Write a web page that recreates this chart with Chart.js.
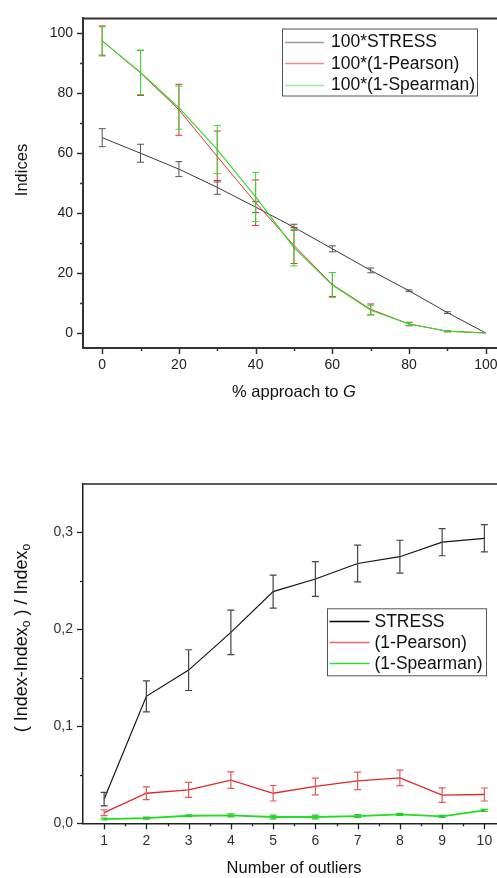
<!DOCTYPE html>
<html>
<head>
<meta charset="utf-8">
<script src="https://cdn.jsdelivr.net/npm/chart.js@4.4.1/dist/chart.umd.min.js"></script>
<style>
    html, body { margin: 0; padding: 0; background: #fff; overflow: hidden; width: 497px; height: 878px; }
    .box { position: absolute; left: 0; }
    #topBox { top: 0; }
    #bottomBox { top: 440px; }
</style>
</head>
<body>
<div class="box" id="topBox"><canvas id="topChart" width="520" height="420"></canvas></div>
<div class="box" id="bottomBox"><canvas id="bottomChart" width="520" height="438"></canvas></div>
<script>
// ---- top chart: % approach to G ----
const approach = [0, 10, 20, 30, 40, 50, 60, 70, 80, 90, 100];
const stressTop = [65.2, 60, 54.7, 48.6, 42, 35.3, 28.1, 20.9, 14.1, 6.8, 0];
const stressTopErr = [3, 3, 2.5, 2.3, 1.8, 1, 1, 0.8, 0.3, 0.3, 0];
const pearsonTop = [97.5, 86.8, 74.5, 58.9, 43.5, 29.2, 16.2, 7.9, 3, 0.6, 0];
const pearsonTopErr = [5, 7.5, 8.5, 8.5, 7.6, 6, 4, 1.8, 0.6, 0.2, 0];
const spearmanTop = [97.5, 87, 75.2, 61.2, 45.4, 28.5, 16, 7.6, 3, 0.6, 0];
const spearmanTopErr = [4.7, 7.4, 7.2, 8, 8.2, 6.1, 4.2, 1.6, 0.5, 0.2, 0];
const topXMajor = [0, 20, 40, 60, 80, 100];
const topXMinor = [10, 30, 50, 70, 90];
const topYMajor = [0, 20, 40, 60, 80, 100];
const topYMinor = [10, 30, 50, 70, 90];

// ---- bottom chart: number of outliers ----
const outliers = [1, 2, 3, 4, 5, 6, 7, 8, 9, 10];
const stressOut = [0.025, 0.131, 0.158, 0.197, 0.239, 0.252, 0.268, 0.275, 0.290, 0.294];
const stressOutErr = [0.007, 0.016, 0.021, 0.023, 0.017, 0.018, 0.019, 0.017, 0.014, 0.014];
const pearsonOut = [0.011, 0.031, 0.0345, 0.0445, 0.031, 0.038, 0.0437, 0.0468, 0.029, 0.0297];
const pearsonOutErr = [0.003, 0.0065, 0.0077, 0.0085, 0.008, 0.0087, 0.009, 0.008, 0.0075, 0.0067];
const spearmanOut = [0.0044, 0.0054, 0.0078, 0.0082, 0.0065, 0.0065, 0.0075, 0.0092, 0.0072, 0.0133];
const spearmanOutErr = [0.001, 0.001, 0.001, 0.0015, 0.002, 0.002, 0.0015, 0.001, 0.001, 0.001];
const botXMajor = [1, 2, 3, 4, 5, 6, 7, 8, 9, 10];
const botXMinor = [1.5, 2.5, 3.5, 4.5, 5.5, 6.5, 7.5, 8.5, 9.5];
const botYMajor = [0, 0.1, 0.2, 0.3];
const botYMinor = [0.05, 0.15, 0.25];

const FONT = '"Liberation Sans", Arial, sans-serif';

function points(xs, ys) {
    return xs.map((x, i) => ({ x, y: ys[i] }));
}

// error bars from dataset.errors, through the chart scales
const errorBars = {
    id: 'errorBars',
    afterDatasetsDraw(chart) {
        const ctx = chart.ctx;
        const xs = chart.scales.x;
        const ys = chart.scales.y;
        ctx.save();
        chart.data.datasets.forEach((ds) => {
            if (!ds.errors) return;
            ctx.strokeStyle = ds.errorColor || ds.borderColor;
            ctx.lineWidth = ds.errorWidth || 1;
            ds.data.forEach((p, j) => {
                const e = ds.errors[j];
                if (!e) return;
                const px = xs.getPixelForValue(p.x);
                const top = ys.getPixelForValue(p.y + e);
                const bot = ys.getPixelForValue(p.y - e);
                const cap = ds.capWidth === undefined ? 3.5 : ds.capWidth;
                ctx.beginPath();
                ctx.moveTo(px, top);
                ctx.lineTo(px, bot);
                if (cap > 0) {
                    ctx.moveTo(px - cap, top);
                    ctx.lineTo(px + cap, top);
                    ctx.moveTo(px - cap, bot);
                    ctx.lineTo(px + cap, bot);
                }
                ctx.stroke();
            });
        });
        ctx.restore();
    }
};

// top frame line + major/minor tick marks
const axisDecor = {
    id: 'axisDecor',
    afterDraw(chart, args, opts) {
        const ctx = chart.ctx;
        const area = chart.chartArea;
        const xs = chart.scales.x;
        const ys = chart.scales.y;
        ctx.save();
        ctx.strokeStyle = opts.color;
        ctx.lineWidth = opts.width;
        ctx.beginPath();
        ctx.moveTo(area.left - 1, area.top);
        ctx.lineTo(area.right, area.top);
        ctx.stroke();

        ctx.lineWidth = opts.tickWidth;
        const tick = (vals, len) => {
            vals.forEach(v => {
                const px = Math.round(xs.getPixelForValue(v)) + 0.5;
                ctx.beginPath();
                ctx.moveTo(px, area.bottom);
                ctx.lineTo(px, area.bottom + len);
                ctx.stroke();
            });
        };
        const ytick = (vals, len) => {
            vals.forEach(v => {
                const py = Math.round(ys.getPixelForValue(v)) + 0.5;
                ctx.beginPath();
                ctx.moveTo(area.left, py);
                ctx.lineTo(area.left - len, py);
                ctx.stroke();
            });
        };
        tick(xs.ticks.map(t => t.value), 6);
        tick(opts.minorX, 3);
        ytick(ys.ticks.map(t => t.value), 6);
        ytick(opts.minorY, 3);
        ctx.restore();
    }
};

// axis titles with italic / subscript segments
const axisTitles = {
    id: 'axisTitles',
    afterDraw(chart, args, opts) {
        const ctx = chart.ctx;
        ctx.save();
        ctx.fillStyle = opts.color;
        ctx.textBaseline = 'middle';
        ctx.textAlign = 'left';
        opts.items.forEach(item => {
            let total = 0;
            item.parts.forEach(p => {
                ctx.font = p.font;
                total += ctx.measureText(p.text).width;
            });
            ctx.save();
            ctx.translate(item.x, item.y);
            if (item.rotate) ctx.rotate(-Math.PI / 2);
            let x = -total / 2;
            item.parts.forEach(p => {
                ctx.font = p.font;
                ctx.fillText(p.text, x, p.dy || 0);
                x += ctx.measureText(p.text).width;
            });
            ctx.restore();
        });
        ctx.restore();
    }
};

// framed legend inside the plot
const boxLegend = {
    id: 'boxLegend',
    afterDraw(chart, args, opts) {
        const ctx = chart.ctx;
        ctx.save();
        ctx.fillStyle = '#fff';
        ctx.fillRect(opts.left, opts.top, opts.width, opts.height);
        ctx.strokeStyle = opts.borderColor;
        ctx.lineWidth = 1;
        ctx.strokeRect(opts.left + 0.5, opts.top + 0.5, opts.width, opts.height);
        ctx.font = opts.font;
        ctx.textBaseline = 'middle';
        ctx.textAlign = 'left';
        chart.data.datasets.forEach((ds, i) => {
            const y = opts.firstRow + i * opts.rowGap;
            ctx.strokeStyle = ds.legendColor || ds.borderColor;
            ctx.lineWidth = opts.sampleWidth;
            ctx.beginPath();
            ctx.moveTo(opts.sampleFrom, Math.round(y) + 0.5);
            ctx.lineTo(opts.sampleTo, Math.round(y) + 0.5);
            ctx.stroke();
            ctx.fillStyle = opts.textColor;
            ctx.fillText(ds.label, opts.textX, y + 1);
        });
        ctx.restore();
    }
};

function fixedTicks(values) {
    return (scale) => {
        scale.ticks = values.map(v => ({ value: v }));
    };
}

const topCtx = document.getElementById('topChart').getContext('2d');
new Chart(topCtx, {
    type: 'line',
    data: {
        datasets: [{
            label: '100*STRESS',
            data: points(approach, stressTop),
            errors: stressTopErr,
            borderColor: '#3a3a3a',
            errorColor: '#555',
            legendColor: '#9a9a9a',
            borderWidth: 1,
            order: 2
        }, {
            label: '100*(1-Pearson)',
            data: points(approach, pearsonTop),
            errors: pearsonTopErr,
            borderColor: '#e3302c',
            errorColor: '#e3302c',
            legendColor: '#ec8c8c',
            borderWidth: 1,
            order: 1
        }, {
            label: '100*(1-Spearman)',
            data: points(approach, spearmanTop),
            errors: spearmanTopErr,
            borderColor: '#33dd33',
            errorColor: '#33dd33',
            legendColor: '#92ee92',
            borderWidth: 1.2,
            order: 0
        }]
    },
    options: {
        responsive: false,
        animation: false,
        elements: { point: { radius: 0 }, line: { tension: 0 } },
        layout: { padding: { top: 9, right: 15, left: 0, bottom: 0 } },
        scales: {
            x: {
                type: 'linear',
                min: -5,
                max: 105,
                afterBuildTicks: fixedTicks(topXMajor),
                afterFit: (scale) => { scale.height = 72; },
                grid: { display: false, drawTicks: false },
                border: { display: true, color: '#333', width: 2 },
                ticks: { padding: 9, color: '#222', font: { family: FONT, size: 14 }, maxRotation: 0, autoSkip: false }
            },
            y: {
                type: 'linear',
                min: -5,
                max: 105,
                afterBuildTicks: fixedTicks(topYMajor),
                afterFit: (scale) => { scale.width = 83; },
                grid: { display: false, drawTicks: false },
                border: { display: true, color: '#333', width: 2 },
                ticks: { padding: 10, color: '#222', font: { family: FONT, size: 14 }, autoSkip: false }
            }
        },
        plugins: {
            legend: { display: false },
            tooltip: { enabled: false },
            axisDecor: { color: '#333', width: 2, tickWidth: 1.5, minorX: topXMinor, minorY: topYMinor },
            axisTitles: {
                color: '#111',
                items: [
                    { x: 22, y: 170, rotate: true, parts: [{ text: 'Indices', font: '16.5px ' + FONT }] },
                    { x: 294, y: 392, parts: [
                        { text: '% approach to ', font: '16.5px ' + FONT },
                        { text: 'G', font: 'italic 16.5px ' + FONT }
                    ] }
                ]
            },
            boxLegend: {
                left: 282, top: 28.5, width: 195, height: 67,
                firstRow: 41.5, rowGap: 21.5,
                sampleFrom: 285, sampleTo: 324, sampleWidth: 1.3, textX: 331,
                font: '17.5px ' + FONT, textColor: '#111', borderColor: '#555'
            }
        }
    },
    plugins: [errorBars, axisDecor, axisTitles, boxLegend]
});

const botCtx = document.getElementById('bottomChart').getContext('2d');
new Chart(botCtx, {
    type: 'line',
    data: {
        datasets: [{
            label: 'STRESS',
            data: points(outliers, stressOut),
            errors: stressOutErr,
            borderColor: '#151515',
            errorColor: '#444',
            legendColor: '#000',
            borderWidth: 1.2,
            errorWidth: 1.2,
            order: 2
        }, {
            label: '(1-Pearson)',
            data: points(outliers, pearsonOut),
            errors: pearsonOutErr,
            borderColor: '#e02828',
            errorColor: '#e25a5a',
            legendColor: '#e66a6a',
            borderWidth: 1.3,
            errorWidth: 1.2,
            order: 1
        }, {
            label: '(1-Spearman)',
            data: points(outliers, spearmanOut),
            errors: spearmanOutErr,
            borderColor: '#22dd22',
            errorColor: '#22cc22',
            legendColor: '#33dd33',
            borderWidth: 1.8,
            errorWidth: 1.2,
            order: 0
        }]
    },
    options: {
        responsive: false,
        animation: false,
        elements: { point: { radius: 0 }, line: { tension: 0 } },
        layout: { padding: { top: 44, right: 14.5, left: 0, bottom: 0 } },
        scales: {
            x: {
                type: 'linear',
                min: 0.5,
                max: 10.5,
                afterBuildTicks: fixedTicks(botXMajor),
                afterFit: (scale) => { scale.height = 54.7; },
                grid: { display: false, drawTicks: false },
                border: { display: true, color: '#222', width: 1.5 },
                ticks: { padding: 9, color: '#333', font: { family: FONT, size: 14 }, maxRotation: 0, autoSkip: false }
            },
            y: {
                type: 'linear',
                min: 0,
                max: 0.35,
                afterBuildTicks: fixedTicks(botYMajor),
                afterFit: (scale) => { scale.width = 83; },
                grid: { display: false, drawTicks: false },
                border: { display: true, color: '#222', width: 1.5 },
                ticks: {
                    padding: 10, color: '#333', font: { family: FONT, size: 14 }, autoSkip: false,
                    callback: (v) => v.toFixed(1).replace('.', ',')
                }
            }
        },
        plugins: {
            legend: { display: false },
            tooltip: { enabled: false },
            axisDecor: { color: '#222', width: 1.5, tickWidth: 1.3, minorX: botXMinor, minorY: botYMinor },
            axisTitles: {
                color: '#111',
                items: [
                    { x: 22, y: 198, rotate: true, parts: [
                        { text: '( Index-Index', font: '18px ' + FONT },
                        { text: 'o', font: '12px ' + FONT, dy: 5 },
                        { text: ' ) / Index', font: '18px ' + FONT },
                        { text: 'o', font: '12px ' + FONT, dy: 5 }
                    ] },
                    { x: 294, y: 428, parts: [{ text: 'Number of outliers', font: '16.5px ' + FONT }] }
                ]
            },
            boxLegend: {
                left: 327, top: 168.3, width: 159, height: 67,
                firstRow: 181, rowGap: 21.2,
                sampleFrom: 329.5, sampleTo: 369.5, sampleWidth: 1.4, textX: 374.5,
                font: '17.5px ' + FONT, textColor: '#111', borderColor: '#555'
            }
        }
    },
    plugins: [errorBars, axisDecor, axisTitles, boxLegend]
});
</script>
</body>
</html>
